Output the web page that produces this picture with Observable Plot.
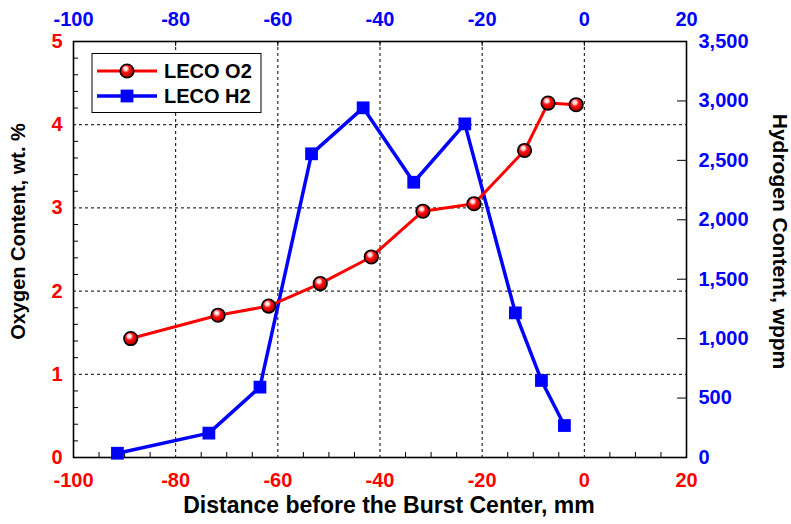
<!DOCTYPE html>
<html>
<head>
<meta charset="utf-8">
<script src="https://cdn.jsdelivr.net/npm/d3@7"></script>
<script src="https://cdn.jsdelivr.net/npm/@observablehq/plot@0.6"></script>
<style>
  html, body { margin: 0; padding: 0; background: #fff; }
  #chart { position: relative; width: 791px; height: 524px; }
</style>
</head>
<body>
<div id="chart"></div>
<script>
// ---- data ----
const xTicks = [-100, -80, -60, -40, -20, 0, 20];
const oxTicks = [0, 1, 2, 3, 4, 5];
const hTicks = [0, 500, 1000, 1500, 2000, 2500, 3000, 3500];
const distO2 = [-88.8, -71.7, -61.8, -51.7, -41.7, -31.6, -21.6, -11.7, -7.1, -1.6];
const o2 = [1.43, 1.71, 1.82, 2.09, 2.41, 2.96, 3.05, 3.69, 4.26, 4.24];
const distH2 = [-91.4, -73.5, -63.5, -53.4, -43.3, -33.4, -23.4, -13.5, -8.4, -3.9];
const h2 = [36, 205, 592, 2555, 2942, 2316, 2807, 1217, 648, 269];
const seriesNames = ["LECO O2", "LECO H2"];
const xTitle = "Distance before the Burst Center, mm";
const yLeftTitle = "Oxygen Content, wt. %";
const yRightTitle = "Hydrogen Content, wppm";

const HMAX = 3500, OMAX = 5;
const hToO = h => h * OMAX / HMAX;

const o2Data = distO2.map((d, i) => ({x: d, y: o2[i]}));
const h2Data = distH2.map((d, i) => ({x: d, y: h2[i]}));

const W = 791, H = 524;
const mL = 73, mR = 105, mT = 41, mB = 67;
const pw = W - mL - mR, ph = H - mT - mB;

const minorY = d3.range(0, 5.001, 0.2).map(v => +v.toFixed(1)).filter(v => !oxTicks.includes(v));
const minorX = d3.range(-95, 20, 5).filter(v => !xTicks.includes(v));
const gridX = xTicks.filter(v => v > -100 && v < 20);
const gridY = oxTicks.filter(v => v > 0 && v < 5);

const font = "'Liberation Sans', Arial, sans-serif";
const red = "#ff0000", blue = "#0000ff";
const TF = 20;

const chart = Plot.plot({
  width: W, height: H,
  marginLeft: mL, marginRight: mR, marginTop: mT, marginBottom: mB,
  style: {fontFamily: font, fontWeight: "bold", background: "#fff", overflow: "visible"},
  x: {domain: [-100, 20], axis: null},
  y: {domain: [0, 5], axis: null},
  marks: [
    // grid
    Plot.ruleX(gridX, {stroke: "#000", strokeWidth: 1, strokeDasharray: "3,3"}),
    Plot.ruleY(gridY, {stroke: "#000", strokeWidth: 1, strokeDasharray: "3,3"}),
    // inward ticks
    Plot.tickY(minorY, {y: d => d, stroke: "#000", strokeWidth: 1, insetRight: pw - 5}),
    Plot.tickY(hTicks, {y: d => hToO(d), stroke: "#000", strokeWidth: 1, insetLeft: pw - 9}),
    Plot.tickX(minorX, {x: d => d, stroke: "#000", strokeWidth: 1, insetTop: ph - 5}),
    Plot.tickX(gridX, {x: d => d, stroke: "#000", strokeWidth: 1, insetBottom: ph - 5}),
    // axes labels (hyphen-minus as in the reference)
    Plot.axisX(xTicks, {anchor: "bottom", tickSize: 0, tickPadding: 15, fontSize: TF, fill: red, label: null, tickFormat: d => String(d)}),
    Plot.axisX(xTicks, {anchor: "top", tickSize: 0, tickPadding: 16, fontSize: TF, fill: blue, label: null, tickFormat: d => String(d)}),
    Plot.axisY(oxTicks, {anchor: "left", tickSize: 0, tickPadding: 11, fontSize: TF, fill: red, label: null, tickFormat: d => String(d)}),
    Plot.axisY(hTicks.map(hToO), {anchor: "right", tickSize: 0, tickPadding: 12, fontSize: TF, fill: blue, label: null,
      tickFormat: d => d3.format(",")(Math.round(d * HMAX / OMAX))}),
    // frame
    Plot.frame({stroke: "#000", strokeWidth: 1.6}),
    // series
    Plot.line(h2Data, {x: "x", y: d => hToO(d.y), stroke: blue, strokeWidth: 3.5}),
    Plot.dot(h2Data, {x: "x", y: d => hToO(d.y), symbol: "square", r: 7.2, fill: blue, stroke: "none"}),
    Plot.line(o2Data, {x: "x", y: "y", stroke: red, strokeWidth: 3}),
    Plot.dot(o2Data, {x: "x", y: "y", r: 6.8, fill: "url(#o2sph)", stroke: "#000", strokeWidth: 1.6}),
    // titles
    Plot.text([xTitle], {frameAnchor: "bottom", textAnchor: "middle", dx: 9, dy: 55, fontSize: 23, fill: "#000", text: d => d}),
    Plot.text([yLeftTitle], {frameAnchor: "left", textAnchor: "middle", dx: -55, dy: -18, rotate: -90, fontSize: 20, fill: "#000", text: d => d}),
    Plot.text([yRightTitle], {frameAnchor: "right", textAnchor: "middle", dx: 93, dy: -8, rotate: 90, fontSize: 21, fill: "#000", text: d => d})
  ]
});

const svg = d3.select(chart);
const defs = svg.insert("defs", ":first-child");
const g = defs.append("radialGradient").attr("id", "o2sph")
  .attr("cx", "0.42").attr("cy", "0.38").attr("r", "0.62").attr("fx", "0.4").attr("fy", "0.32");
g.append("stop").attr("offset", "0%").attr("stop-color", "#ffffff");
g.append("stop").attr("offset", "22%").attr("stop-color", "#ffd0d0");
g.append("stop").attr("offset", "45%").attr("stop-color", "#ff1010");
g.append("stop").attr("offset", "80%").attr("stop-color", "#d00000");
g.append("stop").attr("offset", "100%").attr("stop-color", "#700000");

// legend
const lg = svg.append("g").attr("font-family", font).attr("font-weight", "bold").attr("text-anchor", "start");
lg.append("rect").attr("x", 92).attr("y", 53.5).attr("width", 169).attr("height", 59)
  .attr("fill", "#fff").attr("stroke", "#000").attr("stroke-width", 1);
const rows = [
  {name: seriesNames[0], color: red, y: 71},
  {name: seriesNames[1], color: blue, y: 96}
];
rows.forEach((r, i) => {
  lg.append("line").attr("x1", 97).attr("x2", 157).attr("y1", r.y).attr("y2", r.y)
    .attr("stroke", r.color).attr("stroke-width", i === 0 ? 3 : 3.5);
  if (i === 0) {
    lg.append("circle").attr("cx", 127).attr("cy", r.y).attr("r", 6.8)
      .attr("fill", "url(#o2sph)").attr("stroke", "#000").attr("stroke-width", 1.6);
  } else {
    lg.append("rect").attr("x", 127 - 6.4).attr("y", r.y - 6.4).attr("width", 12.8).attr("height", 12.8)
      .attr("fill", blue);
  }
  lg.append("text").attr("x", 164).attr("y", r.y).attr("dy", "0.36em").attr("text-anchor", "start")
    .attr("font-size", 20).attr("fill", "#000").text(r.name);
});

document.getElementById("chart").appendChild(chart);
</script>
</body>
</html>
